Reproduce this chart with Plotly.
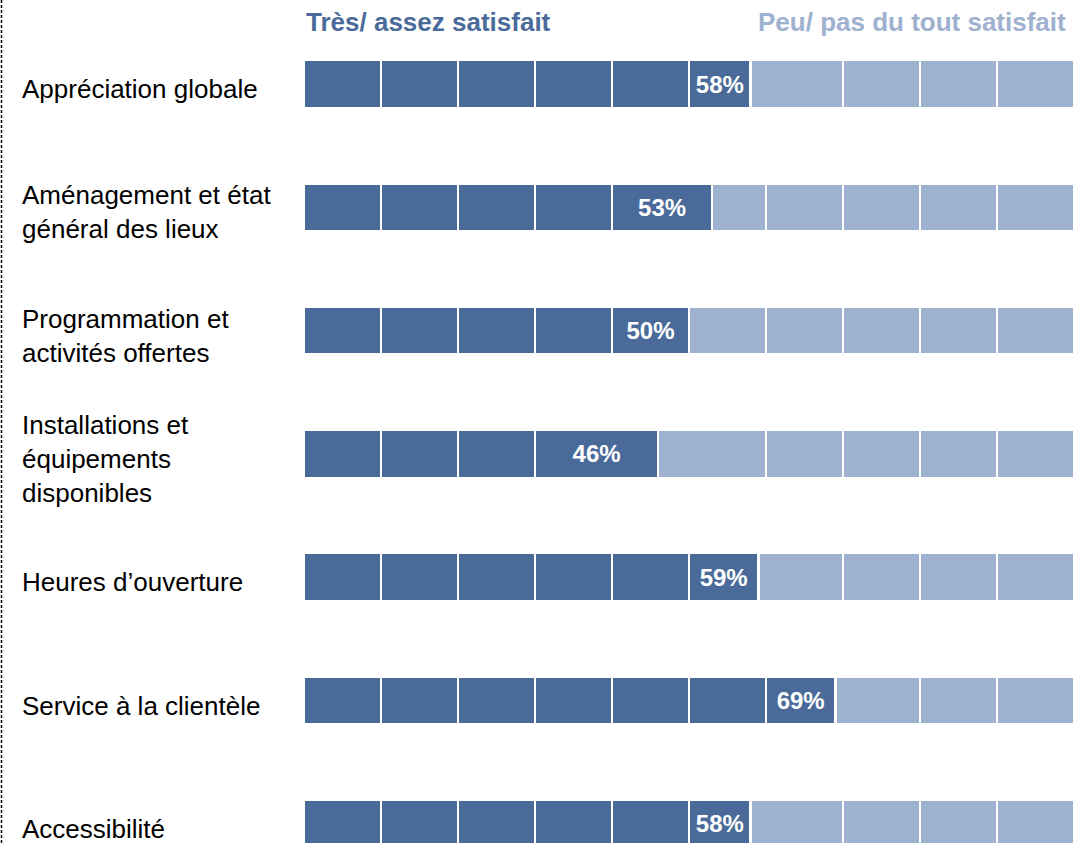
import plotly.graph_objects as go

# ---- data ----
categories = [
    "Appréciation globale",
    "Aménagement et état<br>général des lieux",
    "Programmation et<br>activités offertes",
    "Installations et<br>équipements<br>disponibles",
    "Heures d’ouverture",
    "Service à la clientèle",
    "Accessibilité",
]
satisfied = [58, 53, 50, 46, 59, 69, 58]          # Très/ assez satisfait (%)
unsatisfied = [100 - v for v in satisfied]       # Peu/ pas du tout satisfait (%)
series_names = ["Très/ assez satisfait", "Peu/ pas du tout satisfait"]
unit = 10  # one pictogram block = 10 %

DARK = "#4A6B9A"
LIGHT = "#9EB1CF"
FONT = "Arial, Liberation Sans, sans-serif"


def split_blocks(value, rest):
    """Split a satisfied value and its complement into pictogram blocks."""
    n, r = divmod(value, unit)
    if r >= 7 or n == 0:
        dark = [unit] * n + ([r] if r else [])
    else:
        dark = [unit] * (n - 1) + [unit + r]
    first = unit - (value % unit) if value % unit else unit
    if first < unit / 2:
        first += unit
    light = [first] + [unit] * int((rest - first) // unit)
    return dark, light


rows = []
for v, u in zip(satisfied, unsatisfied):
    dark, light = split_blocks(v, u)
    segs = [(w, DARK, "") for w in dark]
    segs[-1] = (segs[-1][0], DARK, f"<b>{v}%</b>")
    segs += [(w, LIGHT, "") for w in light]
    rows.append(segs)

K = max(len(r) for r in rows)
fig = go.Figure()
for k in range(K):
    xs, cols, txt = [], [], []
    for segs in rows:
        if k < len(segs):
            w, c, t = segs[k]
        else:
            w, c, t = 0, "white", ""
        xs.append(w)
        cols.append(c)
        txt.append(t)
    fig.add_trace(go.Bar(
        x=xs, y=categories, orientation="h",
        marker=dict(color=cols, line=dict(color="white", width=2.5)),
        text=txt, textposition="inside", insidetextanchor="middle",
        textfont=dict(color="white", size=24, family=FONT),
        constraintext="none", cliponaxis=True,
        hoverinfo="skip", showlegend=False,
    ))

W, H = 1074, 843
L = 304
pw = W - L

def px_x(p):
    return (p - L) / pw

annotations = []
for cat in categories:
    annotations.append(dict(
        x=px_x(20), xref="paper", y=cat, yref="y", text=cat,
        xanchor="left", yanchor="middle", align="left", showarrow=False,
        font=dict(size=26, color="black", family=FONT), yshift=-5,
    ))
annotations.append(dict(
    x=0, xref="paper", y=1 - 22 / H, yref="paper", text=f"<b>{series_names[0]}</b>",
    xanchor="left", yanchor="middle", showarrow=False,
    font=dict(size=26, color=DARK, family=FONT),
))
annotations.append(dict(
    x=px_x(1068), xref="paper", y=1 - 22 / H, yref="paper", text=f"<b>{series_names[1]}</b>",
    xanchor="right", yanchor="middle", showarrow=False,
    font=dict(size=26, color=LIGHT, family=FONT),
))

step = 123.3
ymin = -84 / step
ymax = ymin + H / step

fig.update_layout(
    width=W, height=H,
    margin=dict(l=L, r=0, t=0, b=0),
    barmode="stack", bargap=1 - 48 / step,
    paper_bgcolor="white", plot_bgcolor="white",
    xaxis=dict(range=[0, 100], visible=False, fixedrange=True),
    yaxis=dict(type="category", categoryorder="array", categoryarray=categories,
               range=[ymax, ymin], autorange=False, visible=False),
    annotations=annotations,
    shapes=[dict(type="line", xref="paper", yref="paper",
                 x0=px_x(1.5), x1=px_x(1.5), y0=0, y1=1,
                 line=dict(color="black", width=1.5, dash="3px,2px"))],
    font=dict(family=FONT),
)

fig.write_html("out.html", config={"displayModeBar": False},
               post_script="document.body.style.margin='0';document.body.style.overflow='hidden';")
